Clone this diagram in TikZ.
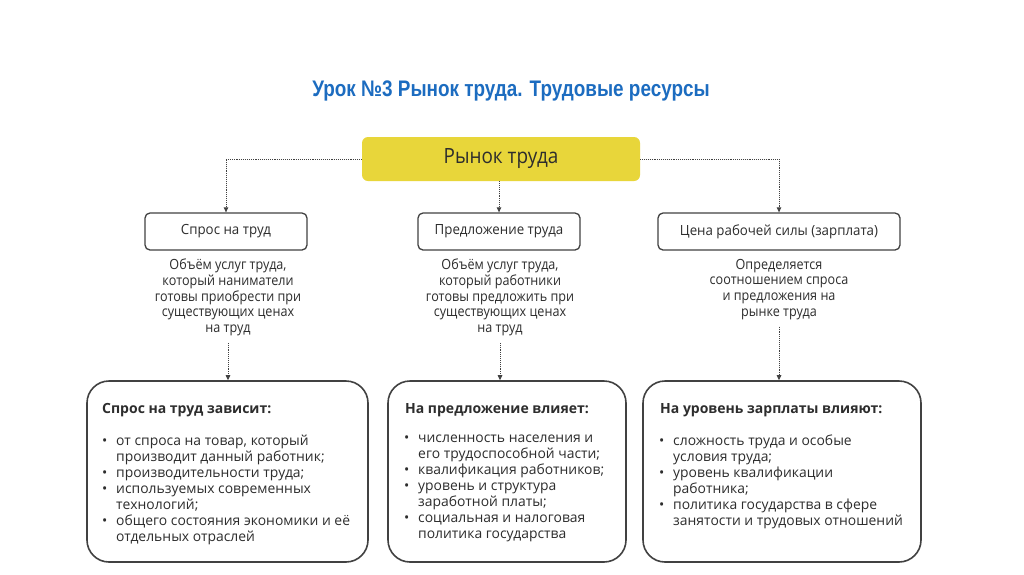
\documentclass[tikz,border=0pt]{standalone}
\usepackage{fontspec}
\usepackage{graphicx}
\setmainfont{Open Sans}
\newfontfamily\condfont[FakeStretch=0.9]{Open Sans}
\newfontfamily\boxfont[FakeStretch=0.95]{Open Sans}
\newfontfamily\titlefont[FakeStretch=0.84]{Liberation Sans}
\usetikzlibrary{arrows.meta}
\definecolor{titleblue}{RGB}{28,108,192}
\definecolor{ybox}{RGB}{232,214,58}
\definecolor{ink}{RGB}{45,45,45}
\definecolor{lineg}{RGB}{65,65,65}
\tikzset{
  smallbox/.style={draw=lineg, line width=1.3pt, rounded corners=5pt, fill=white,
    minimum height=37pt, inner sep=0pt, font=\boxfont\fontsize{14}{16}\selectfont, text=ink},
  bigbox/.style={draw=lineg, line width=1.6pt, rounded corners=22pt, fill=white,
    minimum height=181pt, inner sep=0pt},
  desc/.style={align=center, inner sep=0pt, font=\condfont\fontsize{14}{15.6}\selectfont, text=ink},
  head/.style={anchor=base west, inner sep=0pt, font=\bfseries\fontsize{14}{16}\selectfont, text=ink},
  blist/.style={anchor=north west, align=left, inner sep=0pt, font=\fontsize{13.9}{16}\selectfont, text=ink},
  conn/.style={densely dotted, draw=lineg, line width=0.9pt, -{Triangle[length=5pt,width=4.5pt]}},
}
\newcommand{\bul}{\makebox[14pt][l]{•}}
\newcommand{\cont}{\hspace*{14pt}}
\begin{document}
\begin{tikzpicture}[x=1pt,y=-1pt]
\useasboundingbox[fill=white] (0,0) rectangle (1024,574);
\node[anchor=base, text=titleblue, inner sep=0pt, font=\titlefont\bfseries\fontsize{22.5}{26}\selectfont] (title) at (511,96) {Урок №3 Рынок труда. Трудовые ресурсы};

\node[fill=ybox, rounded corners=6pt, minimum width=278pt, minimum height=44pt, inner sep=0pt,
  font=\condfont\fontsize{21}{24}\selectfont, text=ink] (rynok) at (501,159) {\raisebox{-1.5pt}{Рынок труда}};

\node[smallbox, minimum width=162pt] (spros) at (226,231.5) {Спрос на труд};
\node[smallbox, minimum width=162pt] (predl) at (499,231.5) {Предложение труда};
\node[smallbox, minimum width=242pt] (cena) at (779,231.5) {Цена рабочей силы (зарплата)};

\draw[conn] (rynok.west) -| (spros.north);
\draw[conn] (rynok.south -| predl.north) -- (predl.north);
\draw[conn] (rynok.east) -| (cena.north);

\node[desc, anchor=north] (dA) at (228,259) {Объём услуг труда,\\который наниматели\\готовы приобрести при\\существующих ценах\\на труд};
\node[desc, anchor=north] (dB) at (500,259) {Объём услуг труда,\\который работники\\готовы предложить при\\существующих ценах\\на труд};
\node[desc, anchor=north] (dC) at (779,259) {Определяется\\соотношением спроса\\и предложения на\\рынке труда};

\node[bigbox, minimum width=281pt] (bA) at (227.5,471.5) {};
\node[bigbox, minimum width=238pt] (bB) at (507,471.5) {};
\node[bigbox, minimum width=278pt] (bC) at (782,471.5) {};

\draw[conn] ([yshift=-7pt]dA.south) -- (dA.south |- bA.north);
\draw[conn] ([yshift=-7pt]dB.south) -- (dB.south |- bB.north);
\draw[conn] ([yshift=-7pt]dC.south) -- (dC.south |- bC.north);

\node[head] (hA) at (102,413) {Спрос на труд зависит:};
\node[head] (hB) at (405,413) {На предложение влияет:};
\node[head] (hC) at (660,413) {На уровень зарплаты влияют:};

\node[blist] (lA) at (102,435) {\bul от спроса на товар, который\\\cont производит данный работник;\\\bul производительности труда;\\\bul используемых современных\\\cont технологий;\\\bul общего состояния экономики и её\\\cont отдельных отраслей};
\node[blist] (lB) at (404,435) {\bul численность населения и\\\cont его трудоспособной части;\\\bul квалификация работников;\\\bul уровень и структура\\\cont заработной платы;\\\bul социальная и налоговая\\\cont политика государства};
\node[blist] (lC) at (659,435) {\bul сложность труда и особые\\\cont условия труда;\\\bul уровень квалификации\\\cont работника;\\\bul политика государства в сфере\\\cont занятости и трудовых отношений};
\end{tikzpicture}
\end{document}
